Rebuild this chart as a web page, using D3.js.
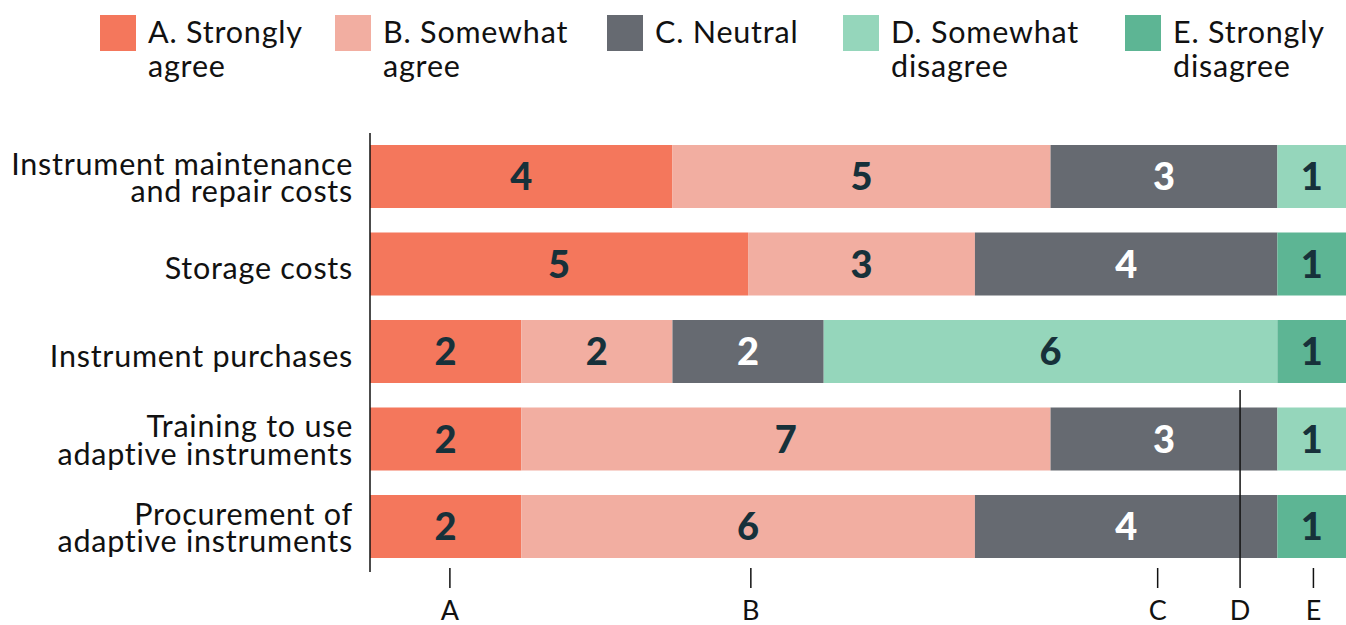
<!DOCTYPE html>
<html>
<head>
<meta charset="utf-8">
<script src="https://cdn.jsdelivr.net/npm/d3@7"></script>
<style>
  html, body { margin: 0; padding: 0; background: #fff; }
  svg { display: block; font-family: Lato, "Open Sans", sans-serif; }
</style>
</head>
<body>
<svg id="chart" width="1346" height="625"></svg>
<script>
// Survey responses: how much each cost area is a barrier (count of respondents)
const categories = [
  ["Instrument maintenance", "and repair costs"],
  ["Storage costs"],
  ["Instrument purchases"],
  ["Training to use", "adaptive instruments"],
  ["Procurement of", "adaptive instruments"]
];
const responseKeys = ["A", "B", "C", "D", "E"];
const legendLabels = [
  ["A. Strongly", "agree"],
  ["B. Somewhat", "agree"],
  ["C. Neutral"],
  ["D. Somewhat", "disagree"],
  ["E. Strongly", "disagree"]
];
const seriesA = [4, 5, 2, 2, 2];
const seriesB = [5, 3, 2, 7, 6];
const seriesC = [3, 4, 2, 3, 4];
const seriesD = [1, 0, 6, 1, 0];
const seriesE = [0, 1, 1, 0, 1];
const tickLabels = ["A", "B", "C", "D", "E"];
const tickValues = [1.05, 5.03, 10.41, 11.5, 12.47];

const colors = ["#F4775C", "#F2AEA1", "#666A71", "#95D6BB", "#5DB594"];
const textColors = ["#17313A", "#17313A", "#FFFFFF", "#17313A", "#17313A"];

const svg = d3.select("#chart");
const plotLeft = 370, plotRight = 1353;
const plotTop = 145, plotBottom = 558;

const rows = categories.map((c, i) => ({
  idx: i, label: c,
  A: seriesA[i], B: seriesB[i], C: seriesC[i], D: seriesD[i], E: seriesE[i]
}));
const stacked = d3.stack().keys(responseKeys)(rows);

const x = d3.scaleLinear().domain([0, 13]).range([plotLeft, plotRight]);
const y = d3.scaleBand().domain(d3.range(categories.length))
  .range([plotTop, plotBottom]).paddingInner(0.28).paddingOuter(0);

// bars
const layers = svg.append("g").selectAll("g").data(stacked).join("g")
  .attr("fill", (d, i) => colors[i]);
layers.selectAll("rect").data(d => d.filter(s => s[1] > s[0])).join("rect")
  .attr("x", s => x(s[0]))
  .attr("y", s => y(s.data.idx))
  .attr("width", s => x(s[1]) - x(s[0]))
  .attr("height", y.bandwidth());

// value labels
const vlayers = svg.append("g").selectAll("g").data(stacked).join("g")
  .attr("fill", (d, i) => textColors[i]);
vlayers.selectAll("text").data(d => d.filter(s => s[1] > s[0])).join("text")
  .attr("x", s => (x(s[0]) + Math.min(x(s[1]), 1346)) / 2)
  .attr("y", s => y(s.data.idx) + y.bandwidth() / 2 + 13.5)
  .attr("text-anchor", "middle")
  .attr("font-size", 38)
  .attr("font-weight", 900)
  .text(s => s[1] - s[0]);

// category labels
const catG = svg.append("g");
rows.forEach((r, i) => {
  const cy = y(i) + y.bandwidth() / 2;
  const n = r.label.length;
  const lh = 27.5;
  const off = n > 1 ? 11.75 : 15;
  const t = catG.append("text")
    .attr("text-anchor", "end")
    .attr("font-size", 30.5)
    .attr("letter-spacing", 0.75)
    .attr("fill", "#111");
  r.label.forEach((line, k) => {
    t.append("tspan")
      .attr("x", 353)
      .attr("y", cy + off - (n - 1) * lh / 2 + k * lh)
      .text(line);
  });
});

// left axis line
svg.append("line")
  .attr("x1", plotLeft).attr("x2", plotLeft)
  .attr("y1", 133).attr("y2", 572)
  .attr("stroke", "#111").attr("stroke-width", 1.5);

// bottom axis
const xAxis = d3.axisBottom(x)
  .tickValues(tickValues)
  .tickFormat((d, i) => tickLabels[i])
  .tickSize(20);
const ax = svg.append("g").attr("transform", "translate(0,568)").call(xAxis);
ax.select(".domain").remove();
ax.selectAll(".tick line").attr("stroke", "#111").attr("stroke-width", 1.5);
ax.selectAll(".tick text")
  .attr("y", 52).attr("dy", null)
  .attr("font-size", 27)
  .attr("font-family", "Lato, sans-serif")
  .attr("fill", "#111");
// the D tick reaches up into the bars
ax.selectAll(".tick").filter((d, i) => tickLabels[i] === "D")
  .select("line").attr("y1", -178);

// legend
const legendX = [100, 335, 607, 843, 1125];
const lg = svg.append("g");
legendLabels.forEach((lab, i) => {
  const g = lg.append("g").attr("transform", `translate(${legendX[i]},0)`);
  g.append("rect").attr("x", 0).attr("y", 15).attr("width", 36).attr("height", 36)
    .attr("fill", colors[i]);
  const t = g.append("text").attr("font-size", 30.5).attr("letter-spacing", 0.8)
    .attr("fill", "#111");
  lab.forEach((line, k) => {
    t.append("tspan").attr("x", 48).attr("y", 43 + k * 34).text(line);
  });
});
</script>
</body>
</html>
